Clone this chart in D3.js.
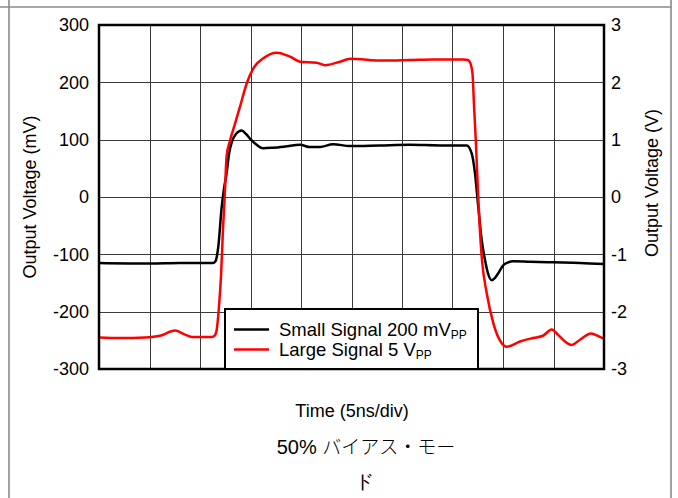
<!DOCTYPE html>
<html>
<head>
<meta charset="utf-8">
<script src="https://cdn.jsdelivr.net/npm/d3@7"></script>
<style>
  html, body { margin: 0; padding: 0; background: #fff; }
  svg { display: block; }
  text { font-family: "Liberation Sans", Arial, sans-serif; fill: #000; }
</style>
</head>
<body>
<svg id="chart" width="678" height="498"></svg>
<script>
// ---- Data (time in ns, 5 ns/div) ----
const smallTime = [0, 5.05, 8.02, 11.29, 11.53, 11.81, 12.15, 12.38, 12.64, 12.87, 13.17, 13.56, 14.13, 14.55, 14.95, 15.54, 16.24, 17.23, 18.42, 19.90, 20.89, 21.88, 23.17, 24.85, 27.82, 30.79, 33.76, 36.41, 36.90, 37.23, 37.55, 37.89, 38.22, 38.51, 38.88, 39.21, 39.53, 40.03, 40.52, 41.02, 42.67, 44.95, 47.62, 50];
const smallMV   = [-115, -116, -115, -115, -112, -87, -17, 15, 42, 75, 97, 110, 116, 110, 102, 92, 85, 86, 88, 91, 87, 87, 92, 89, 90, 91, 90, 90, 76, 41, -17, -75, -110, -133, -145, -141, -133, -119, -114, -112, -113, -114, -115, -117];

const largeTime = [0, 2.08, 4.55, 6.04, 7.52, 8.51, 9.18, 11.16, 11.44, 11.65, 11.88, 12.08, 12.28, 12.43, 12.64, 12.92, 13.47, 13.96, 14.62, 15.28, 16.27, 17.59, 18.91, 19.90, 21.55, 22.38, 23.86, 24.85, 28.12, 30.79, 33.07, 36.07, 36.53, 36.78, 36.98, 37.13, 37.33, 37.52, 37.72, 37.92, 38.39, 39.04, 39.87, 40.37, 41.68, 42.97, 43.96, 44.82, 45.48, 46.14, 46.80, 47.62, 48.71, 49.60, 50];
const largeV    = [-2.45, -2.46, -2.45, -2.42, -2.33, -2.40, -2.44, -2.44, -2.42, -2.32, -1.91, -1.38, -0.55, -0.05, 0.72, 0.95, 1.28, 1.575, 1.98, 2.245, 2.42, 2.517, 2.447, 2.36, 2.34, 2.30, 2.36, 2.41, 2.38, 2.39, 2.40, 2.40, 2.39, 2.33, 2.15, 1.6, 0.9, 0.1, -0.6, -1.1, -1.68, -2.2, -2.55, -2.61, -2.52, -2.46, -2.42, -2.31, -2.41, -2.52, -2.58, -2.49, -2.38, -2.44, -2.47];

const timeTicks  = [0, 5, 10, 15, 20, 25, 30, 35, 40, 45, 50];
const leftTicks  = [300, 200, 100, 0, -100, -200, -300];
const rightTicks = [3, 2, 1, 0, -1, -2, -3];

const seriesNames = ["Small Signal 200 mV", "Large Signal 5 V"];
const seriesColors = ["#000000", "#ff0000"];

const xLabel = "Time (5ns/div)";
const yLeftLabel = "Output Voltage (mV)";
const yRightLabel = "Output Voltage (V)";

// ---- Layout ----
const svg = d3.select("#chart");
const L = 99, R = 604, T = 25, B = 369;

const x = d3.scaleLinear().domain([0, 50]).range([L, R]);
const yL = d3.scaleLinear().domain([-300, 300]).range([B, T]);
const yR = d3.scaleLinear().domain([-3, 3]).range([B, T]);

// outer page frame
const frame = svg.append("g").attr("stroke", "#8a8a8a").attr("stroke-width", 1.6);
frame.append("line").attr("x1", 9).attr("x2", 9).attr("y1", 0).attr("y2", 498);
frame.append("line").attr("x1", 671).attr("x2", 671).attr("y1", 0).attr("y2", 498);
frame.append("line").attr("x1", 0).attr("x2", 671).attr("y1", 7).attr("y2", 7);

// gridlines
const grid = svg.append("g").attr("stroke", "#3a3a3a").attr("stroke-width", 1);
grid.selectAll("line.v").data(timeTicks.slice(1, -1)).join("line")
  .attr("x1", d => Math.round(x(d)) + 0.5).attr("x2", d => Math.round(x(d)) + 0.5)
  .attr("y1", T).attr("y2", B);
grid.selectAll("line.h").data(leftTicks.slice(1, -1)).join("line")
  .attr("x1", L).attr("x2", R)
  .attr("y1", d => Math.round(yL(d)) + 0.5).attr("y2", d => Math.round(yL(d)) + 0.5);

// axes labels via d3 axes
const axL = svg.append("g").attr("transform", `translate(${L},0)`)
  .call(d3.axisLeft(yL).tickValues(leftTicks).tickSize(0).tickPadding(10).tickFormat(d3.format("d")));
const axR = svg.append("g").attr("transform", `translate(${R},0)`)
  .call(d3.axisRight(yR).tickValues(rightTicks).tickSize(0).tickPadding(7).tickFormat(d3.format("d")));
[axL, axR].forEach(a => {
  a.select(".domain").remove();
  a.selectAll("text").attr("font-size", 18).attr("font-family", "'Liberation Sans', Arial, sans-serif").attr("fill", "#000");
});
axL.selectAll("text").text(d => d < 0 ? "-" + Math.abs(d) : d);
axR.selectAll("text").text(d => d < 0 ? "-" + Math.abs(d) : d);

// clip
svg.append("clipPath").attr("id", "plotclip").append("rect")
  .attr("x", L).attr("y", T).attr("width", R - L).attr("height", B - T);

const plot = svg.append("g").attr("clip-path", "url(#plotclip)");

const smallData = smallTime.map((t, i) => [t, smallMV[i]]);
const largeData = largeTime.map((t, i) => [t, largeV[i]]);

const lineL = d3.line().x(d => x(d[0])).y(d => yL(d[1])).curve(d3.curveMonotoneX);
const lineR = d3.line().x(d => x(d[0])).y(d => yR(d[1])).curve(d3.curveMonotoneX);

plot.append("path").attr("d", lineL(smallData)).attr("fill", "none")
  .attr("stroke", seriesColors[0]).attr("stroke-width", 2.5).attr("stroke-linejoin", "round");
plot.append("path").attr("d", lineR(largeData)).attr("fill", "none")
  .attr("stroke", seriesColors[1]).attr("stroke-width", 2.5).attr("stroke-linejoin", "round");

// plot border
svg.append("rect").attr("x", L).attr("y", T).attr("width", R - L).attr("height", B - T)
  .attr("fill", "none").attr("stroke", "#000").attr("stroke-width", 2.5);

// legend
const lg = svg.append("g");
lg.append("rect").attr("x", 225).attr("y", 309).attr("width", 253).attr("height", 60)
  .attr("fill", "#fff").attr("stroke", "#000").attr("stroke-width", 2);
seriesNames.forEach((name, i) => {
  const yy = 329.5 + i * 20;
  lg.append("line").attr("x1", 234).attr("x2", 269).attr("y1", yy).attr("y2", yy)
    .attr("stroke", seriesColors[i]).attr("stroke-width", 2.5);
  const t = lg.append("text").attr("x", 279).attr("y", yy + 6.5).attr("font-size", 18.5);
  t.append("tspan").text(name);
  t.append("tspan").attr("font-size", 12).attr("dy", 2.5).text("PP");
});

// axis titles
svg.append("text").attr("x", 352).attr("y", 417).attr("text-anchor", "middle")
  .attr("font-size", 18).text(xLabel);
svg.append("text").attr("transform", "translate(36,197) rotate(-90)")
  .attr("text-anchor", "middle").attr("font-size", 18).text(yLeftLabel);
svg.append("text").attr("transform", "translate(658,183) rotate(-90)")
  .attr("text-anchor", "middle").attr("font-size", 18).text(yRightLabel);

// caption
const cap = svg.append("text").attr("x", 366).attr("y", 454).attr("text-anchor", "middle");
cap.append("tspan").attr("font-size", 20).text("50% ");
cap.append("tspan").attr("font-size", 19).attr("font-family", "'Noto Sans CJK JP', sans-serif")
  .attr("font-weight", 300).text("バイアス・モー");
svg.append("text").attr("x", 364).attr("y", 488).attr("text-anchor", "middle")
  .attr("font-size", 19).attr("font-family", "'Noto Sans CJK JP', sans-serif")
  .attr("font-weight", 300).text("ド");
</script>
</body>
</html>
